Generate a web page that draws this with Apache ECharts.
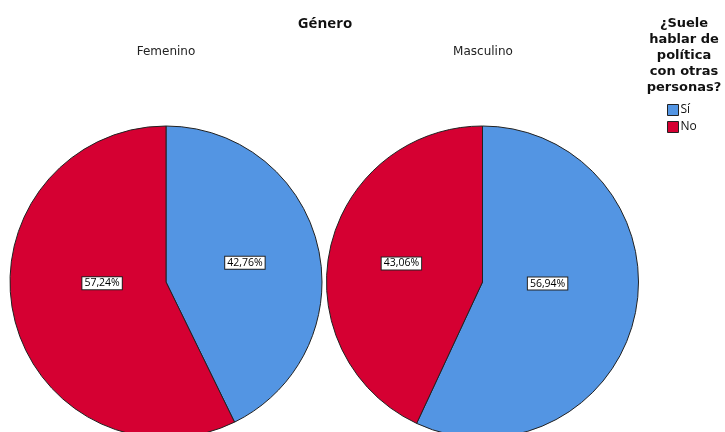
<!DOCTYPE html>
<html>
<head>
<meta charset="utf-8">
<script src="https://cdn.jsdelivr.net/npm/echarts@6/dist/echarts.min.js"></script>
<style>
  html, body { margin: 0; padding: 0; background: #fff; }
  #chart { width: 725px; height: 432px; }
</style>
</head>
<body>
<div id="chart"></div>
<script>
// Categories and per-group percentages
const groups = ['Femenino', 'Masculino'];
const answers = ['Sí', 'No'];
const femenino = [42.76, 57.24];
const masculino = [56.94, 43.06];
const colors = ['#5395E3', '#D50032'];

const FONT = '"Open Sans", "DejaVu Sans", sans-serif';
const FONT_SUB = '"DejaVu Sans", sans-serif';

// Label offsets relative to the default inside position (per slice)
const labelOffsets = [
  [[0, -1], [15, -17]],
  [[-14, -16], [-2, -1]]
];

function fmt(v) {
  return v.toFixed(2).replace('.', ',') + '%';
}

function pieSeries(name, values, cx, gi) {
  return {
    type: 'pie',
    name: name,
    center: [cx, 282],
    radius: 156,
    startAngle: 90,
    clockwise: true,
    silent: true,
    animation: false,
    labelLine: { show: false },
    itemStyle: { borderColor: '#222', borderWidth: 1 },
    label: {
      show: true,
      position: 'inside',
      formatter: (p) => fmt(p.value),
      fontFamily: FONT,
      fontSize: 10.5,
      color: '#000',
      backgroundColor: '#fff',
      borderColor: '#222',
      borderWidth: 1,
      padding: [1, 2, 0, 2]
    },
    data: answers.map((a, i) => ({
      name: a,
      value: values[i],
      itemStyle: { color: colors[i] },
      label: { offset: labelOffsets[gi][i] }
    }))
  };
}

const chart = echarts.init(document.getElementById('chart'), null, { renderer: 'canvas' });
chart.setOption({
  backgroundColor: '#fff',
  title: [
    { text: 'Género', left: 325, top: 16, padding: 0, textAlign: 'center',
      textStyle: { fontFamily: FONT, fontSize: 15, fontWeight: 'bold', color: '#111' } },
    { text: groups[0], left: 166, top: 46, padding: 0, textAlign: 'center',
      textStyle: { fontFamily: FONT_SUB, fontSize: 12, fontWeight: 'normal', color: '#222' } },
    { text: groups[1], left: 483, top: 46, padding: 0, textAlign: 'center',
      textStyle: { fontFamily: FONT_SUB, fontSize: 12, fontWeight: 'normal', color: '#222' } },
    { text: '¿Suele\nhablar de\npolítica\ncon otras\npersonas?', left: 684, top: 16, padding: 0, textAlign: 'center',
      textStyle: { fontFamily: FONT_SUB, fontSize: 13, fontWeight: 'bold', color: '#111', lineHeight: 16, align: 'center' } }
  ],
  legend: {
    data: answers,
    orient: 'vertical',
    left: 667,
    top: 104,
    padding: 0,
    itemWidth: 11,
    itemHeight: 11,
    itemGap: 5,
    icon: 'rect',
    selectedMode: false,
    textStyle: { fontFamily: FONT, fontSize: 12, color: '#111', padding: [0, 0, 0, -3] },
    itemStyle: { borderColor: '#222', borderWidth: 1 }
  },
  series: [
    pieSeries(groups[0], femenino, 166, 0),
    pieSeries(groups[1], masculino, 482.5, 1)
  ]
});
</script>
</body>
</html>
